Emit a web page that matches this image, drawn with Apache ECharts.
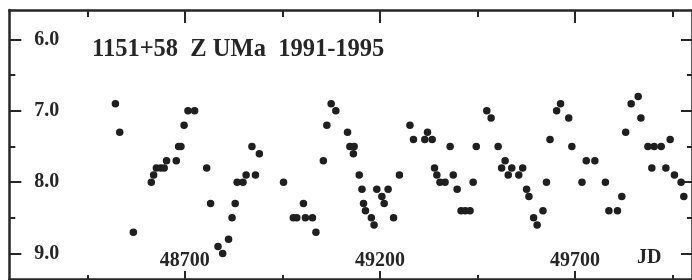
<!DOCTYPE html>
<html>
<head>
<meta charset="utf-8">
<script src="https://cdn.jsdelivr.net/npm/echarts@6/dist/echarts.min.js"></script>
<style>
html,body{margin:0;padding:0;background:#fff;}
#chart{width:692px;height:280px;}
</style>
</head>
<body>
<div id="chart"></div>
<script>
// Julian dates (JD - 2400000) of the observations
var jd = [48522,48533,48568,48614,48620,48627,48638,48647,48653,48678,48684,48690,48698,48708,48725,
48756,48766,48785,48797,48812,48821,48829,48834,48849,48857,48872,48881,48891,48953,48978,48987,
49004,49009,49027,49036,49055,49064,49075,49087,49117,49123,49132,49134,49147,49154,49158,49163,
49178,49185,49192,49205,49211,49221,49235,49250,49277,49286,49315,49322,49334,49340,49346,49354,
49367,49380,49388,49398,49408,49419,49431,49439,49447,49474,49485,49503,49512,49521,49529,49538,
49556,49566,49576,49582,49594,49603,49618,49627,49636,49653,49663,49684,49692,49718,49729,49751,
49778,49787,49809,49820,49830,49844,49862,49869,49887,49897,49903,49921,49933,49944,49955,49972,49979];
// visual magnitudes
var mag = [6.9,7.3,8.7,8.0,7.9,7.8,7.8,7.8,7.7,7.7,7.5,7.5,7.2,7.0,7.0,
7.8,8.3,8.9,9.0,8.8,8.5,8.3,8.0,8.0,7.9,7.5,7.9,7.6,8.0,8.5,8.5,
8.3,8.5,8.5,8.7,7.7,7.2,6.9,7.0,7.3,7.5,7.6,7.5,7.9,8.1,8.3,8.4,
8.5,8.6,8.1,8.2,8.3,8.1,8.5,7.9,7.2,7.4,7.4,7.3,7.4,7.8,7.9,8.0,
8.0,7.5,7.9,8.1,8.4,8.4,8.4,8.0,7.5,7.0,7.1,7.5,7.8,7.7,7.9,7.8,
7.9,7.8,8.1,8.2,8.5,8.6,8.4,8.0,7.4,7.0,6.9,7.1,7.5,8.0,7.7,7.7,
8.0,8.4,8.4,8.2,7.3,6.9,6.8,7.1,7.5,7.8,7.5,7.5,7.8,7.4,7.9,8.0,8.2];

var xMajor = [48700, 49200, 49700];
var xMinor = [48450, 48950, 49450, 49950];
var yMajor = [6.0, 7.0, 8.0, 9.0];
var yMinor = [6.5, 7.5, 8.5];
var titleText = '1151+58  Z UMa  1991-1995';
var xName = 'JD';

var ink = '#262626';
var font = 'Liberation Serif, Times New Roman, serif';

var points = jd.map(function (v, i) { return [v, mag[i]]; });

function xAx(pos, ticks, len, showLine, labels) {
  return {
    type: 'value', min: 48250, max: 50000, position: pos, offset: 0,
    axisLine: { show: showLine, onZero: false, lineStyle: { color: ink, width: 2.5 } },
    axisTick: { show: true, inside: true, length: len, customValues: ticks,
      lineStyle: { color: ink, width: 2 } },
    axisLabel: labels ? { show: true, inside: true, margin: 8, customValues: labels,
      fontFamily: font, fontWeight: 'bold', fontSize: 20, color: ink,
      formatter: function (v) { return String(v); } } : { show: false },
    splitLine: { show: false }
  };
}
function yAx(pos, ticks, len, showLine, labels) {
  return {
    type: 'value', min: 5.586, max: 9.357, inverse: true, position: pos, offset: 0,
    axisLine: { show: showLine, onZero: false, lineStyle: { color: ink, width: 2.5 } },
    axisTick: { show: true, inside: true, length: len, customValues: ticks,
      lineStyle: { color: ink, width: 2 } },
    axisLabel: labels ? { show: true, inside: true, margin: 25, customValues: labels,
      fontFamily: font, fontWeight: 'bold', fontSize: 20, color: ink,
      formatter: function (v) { return v.toFixed(1); } } : { show: false },
    splitLine: { show: false }
  };
}

var chart = echarts.init(document.getElementById('chart'), null, { renderer: 'canvas' });
chart.setOption({
  animation: false,
  backgroundColor: '#fff',
  title: [
    { text: titleText, left: 92, top: 37, padding: 0,
      textStyle: { fontFamily: font, fontWeight: 'bold', fontSize: 24.5, color: ink } },
    { text: xName, left: 637, top: 248, padding: 0,
      textStyle: { fontFamily: font, fontWeight: 'bold', fontSize: 20, color: ink } }
  ],
  grid: { left: 9.3, top: 10, width: 684.25, height: 269, containLabel: false },
  xAxis: [
    xAx('bottom', xMajor, 8, true, xMajor),
    xAx('bottom', xMinor, 4, false, null),
    xAx('top', xMajor, 13, true, null),
    xAx('top', xMinor, 7, false, null)
  ],
  yAxis: [
    yAx('left', yMajor, 12, true, yMajor),
    yAx('left', yMinor, 6, false, null),
    yAx('right', yMajor, 11, true, null),
    yAx('right', yMinor, 5, false, null)
  ],
  series: [{
    type: 'scatter', xAxisIndex: 0, yAxisIndex: 0,
    symbol: 'circle', symbolSize: 7.5,
    itemStyle: { color: '#1f1f1f', opacity: 1 },
    data: points
  }]
});
</script>
</body>
</html>
